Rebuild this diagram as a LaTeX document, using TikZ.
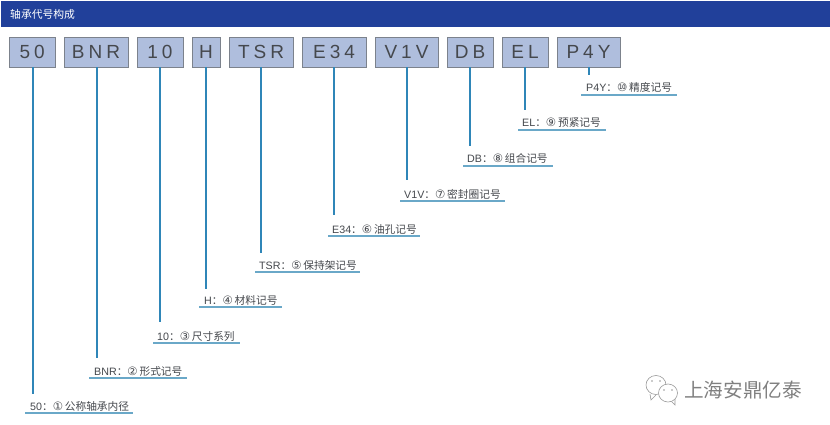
\documentclass[tikz,border=0pt]{standalone}
\usepackage{fontspec}
\setmainfont{Liberation Sans}
\newfontfamily\cjk{Noto Sans CJK SC}
\newfontfamily\dvsans{DejaVu Sans}
\definecolor{hdr}{HTML}{21409A}
\definecolor{boxfill}{HTML}{AFBEDD}
\definecolor{boxline}{HTML}{7C828C}
\definecolor{conn}{HTML}{2F86B8}
\definecolor{under}{HTML}{6AA8C8}
\definecolor{txt}{HTML}{45484D}
\newcommand{\ks}{\hspace{4pt}}
\tikzset{
  x=1pt,y=-1pt,
  codebox/.style={draw=boxline,line width=.9pt,fill=boxfill,minimum height=30pt,inner sep=0pt,text=txt,font=\fontsize{19}{19}\selectfont},
  conline/.style={draw=conn,line width=1.2pt},
  labeltext/.style={text=txt,inner sep=0pt,anchor=base west,font=\fontsize{10.7}{11}\selectfont},
  underl/.style={draw=under,line width=1.2pt},
  wm/.style={draw=black!40,line width=.6pt,fill=white},
  wmdot/.style={fill=black!40,draw=none}
}
\newcommand{\codeitem}[9]{%
  \node[codebox,minimum width=#3pt-#2pt] (b#1) at ({(#2+#3)/2},52) {#4};
  \coordinate (e#1) at (#5,#6);
  \draw[conline] (b#1.south -| e#1) -- (e#1);
  \coordinate (ul#1) at (#7,#9);
  \coordinate (ur#1) at (#8,#9);
  \draw[underl] (ul#1) -- (ur#1);
}
\newcommand{\labelitem}[5]{%
  \node[labeltext] at (#2,#3) {#4{\cjk ：}{\dvsans\fontsize{11.5}{11}\selectfont #5}\,{\cjk #1}};
}
\begin{document}
\begin{tikzpicture}
\useasboundingbox (0,0) rectangle (830,425);
\fill[white] (0,0) rectangle (830,425);
\fill[hdr] (1,1) rectangle (830,27);
\node[text=white,inner sep=0pt,anchor=west,font=\cjk\fontsize{10.8}{11}\selectfont] (title) at (10,14) {轴承代号构成};
\codeitem{a}{9.5}{55}{5\ks 0}{33}{394}{25}{133}{413}
\codeitem{b}{64}{128}{B\ks N\ks R}{97}{358}{89}{187}{378}
\codeitem{c}{137}{183}{1\ks 0}{160}{322}{153}{240}{343}
\codeitem{d}{192}{220}{H}{206}{289}{199}{282}{307}
\codeitem{e}{229}{293}{T\ks S\ks R}{261}{253}{255}{360}{272}
\codeitem{f}{302}{366}{E\ks 3\ks 4}{334}{215}{328}{420}{236}
\codeitem{g}{375}{438}{V\ks 1\ks V}{407}{180}{400}{505}{201}
\codeitem{h}{447}{493}{D\ks B}{470}{146}{463}{553}{166}
\codeitem{i}{502}{548}{E\ks L}{525}{110}{518}{606}{130}
\codeitem{j}{557}{620}{P\ks 4\ks Y}{589}{75}{581}{677}{95}
\labelitem{公称轴承内径}{30}{410}{50}{①}
\labelitem{形式记号}{94}{375}{BNR}{②}
\labelitem{尺寸系列}{157}{340}{10}{③}
\labelitem{材料记号}{204}{304}{H}{④}
\labelitem{保持架记号}{259}{269}{TSR}{⑤}
\labelitem{油孔记号}{332}{233}{E34}{⑥}
\labelitem{密封圈记号}{404}{198}{V1V}{⑦}
\labelitem{组合记号}{467}{163}{DB}{⑧}
\labelitem{预紧记号}{522}{127}{EL}{⑨}
\labelitem{精度记号}{586}{92}{P4Y}{⑩}
\draw[wm] (650,394) -- (651,400) -- (656,395);
\draw[wm] (656,385) ellipse [x radius=10,y radius=9.5];
\fill[wmdot] (652,381) circle (.9) (660,381) circle (.9);
\draw[wm] (670,400) -- (675,405) -- (675,399);
\draw[wm] (668,393) ellipse [x radius=9.5,y radius=9];
\fill[wmdot] (664,390) circle (.8) (672,390) circle (.8);
\node[text=black!50,inner sep=0pt,anchor=west,font=\cjk\fontsize{19.6}{20}\selectfont] (logo) at (684,390) {上海安鼎亿泰};
\end{tikzpicture}
\end{document}
